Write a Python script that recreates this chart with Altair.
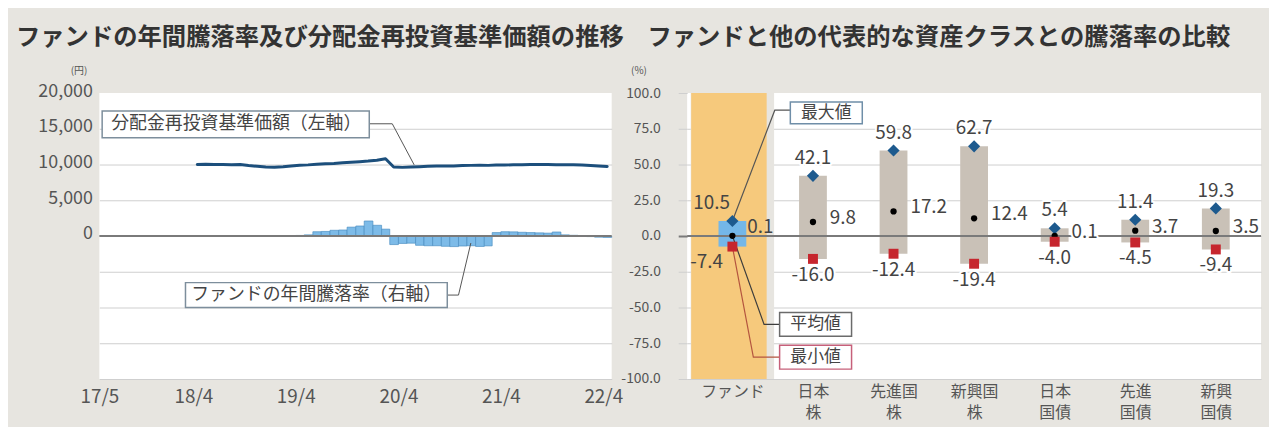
import json
import altair as alt
import pandas as pd

FONT = "Noto Sans CJK JP"
BG = "#e7e5e0"
NAVY = "#1c4f7c"
BAR_BLUE = "#7dbbe8"
BAR_EDGE = "#4d8fc2"
FUND_BLUE = "#74b7e8"
BOX_GRAY = "#c9c1b7"
ORANGE = "#f6c97c"
DIAMOND = "#1d5a8e"
RED = "#c6262e"
TXT = "#444444"

# ---------------- left chart data ----------------
nav_values = [
    10000, 10030, 10000, 10010, 9980, 9990, 9850, 9750, 9650,
    9620, 9700, 9800, 9900, 9950, 10050, 10100, 10150, 10250, 10320, 10400, 10480,
    10600, 10800, 9650, 9600, 9650, 9700, 9750, 9780, 9800, 9780, 9850, 9880,
    9900, 9880, 9920, 9940, 9960, 9980, 10000, 10010, 9990, 9970, 9960, 9970,
    9920, 9860, 9800, 9720,
]
ret_values = [
    0.4, 0.8, 3.0, 3.2, 4.0, 4.2, 6.2, 7.0, 10.5, 7.5, 4.8,
    -6.0, -5.2, -5.0, -6.5, -6.8, -6.8, -7.2, -7.4, -7.0, -6.8, -7.3, -6.9,
    2.4, 3.0, 2.9, 2.6, 2.4, 2.2, 2.0, 2.8,
    0.8, 0.5, 0.2, -0.4, -0.8, -1.0,
]
x_tick_dates = [(2017, 5), (2018, 4), (2019, 4), (2020, 4), (2021, 4), (2022, 4)]

# ---------------- right chart data ----------------
categories = ["ファンド", "日本|株", "先進国|株", "新興国|株", "日本|国債", "先進|国債", "新興|国債"]
max_values = [10.5, 42.1, 59.8, 62.7, 5.4, 11.4, 19.3]
avg_values = [0.1, 9.8, 17.2, 12.4, 0.1, 3.7, 3.5]
min_values = [-7.4, -16.0, -12.4, -19.4, -4.0, -4.5, -9.4]

# ---------------- tables ----------------
nav_periods = pd.period_range("2018-04", periods=len(nav_values), freq="M")
nav_df = pd.DataFrame({"date": [f"{p}-15T00:00:00" for p in nav_periods], "nav": nav_values})
ret_periods = pd.period_range("2019-04", periods=len(ret_values), freq="M")
ret_df = pd.DataFrame({
    "date": [f"{p}-01T00:00:00" for p in ret_periods],
    "end": [f"{p + 1}-01T00:00:00" for p in ret_periods],
    "ret": ret_values,
})
fmt = lambda v: f"{v:.1f}"
right_df = pd.DataFrame({
    "cat": categories,
    "pos": [i + 0.5 for i in range(len(categories))],
    "max": max_values, "avg": avg_values, "min": min_values,
    "max_label": [fmt(v) for v in max_values],
    "avg_label": [fmt(v) for v in avg_values],
    "min_label": [fmt(v) for v in min_values],
})

# ---------------- left chart ----------------
L_W, L_H = 516, 288
x_scale = alt.Scale(domain=[alt.DateTime(year=2017, month=5, date=1),
                            alt.DateTime(year=2022, month=5, date=1)])
x_axis = alt.Axis(values=[alt.DateTime(year=y, month=m, date=1) for y, m in x_tick_dates],
                  format="%y/%-m", labelFontSize=19, labelColor="#555", labelPadding=9,
                  ticks=False, domain=False, grid=False, title=None,
                  labelFlush=False, labelOverlap=False)
yen_scale = alt.Scale(domain=[-20000, 20000], nice=False)
pct_scale = alt.Scale(domain=[-100, 100], nice=False)
yen_axis = alt.Axis(values=list(range(-20000, 20001, 5000)),
                    labelExpr="datum.value >= 0 ? format(datum.value, ',') : ''",
                    labelFontSize=18, labelColor="#555", labelPadding=7, labelOffset=-2,
                    ticks=False, domain=False, grid=True,
                    gridColor={"condition": {"test": "datum.value >= 20000 || datum.value == 0",
                                             "value": "transparent"}, "value": "#cfcfcf"},
                    title="(円)", titleAngle=0, titleX=-21, titleY=-18, titleFontSize=10,
                    titleFontWeight="normal", titleColor="#555", titleAlign="center",
                    titleBaseline="bottom")


def X(field):
    return alt.X(field, scale=x_scale, axis=x_axis)


line = alt.Chart(nav_df).mark_line(color=NAVY, strokeWidth=3, strokeJoin="round", strokeCap="round").encode(
    x=X("date:T"),
    y=alt.Y("nav:Q", scale=yen_scale, axis=yen_axis),
)
bars = alt.Chart(ret_df).mark_bar(color=BAR_BLUE, stroke=BAR_EDGE, strokeWidth=0.7).encode(
    x=X("date:T"),
    x2="end:T",
    y=alt.Y("ret:Q", scale=pct_scale, axis=None),
    y2=alt.datum(0),
)
zero_l = alt.Chart(pd.DataFrame({"v": [0]})).mark_rule(color="#7a7a7a", strokeWidth=2).encode(
    y=alt.Y("v:Q", scale=pct_scale, axis=None))

box1 = pd.DataFrame({"x1": ["2017-05-11T00:00:00"], "x2": ["2019-12-19T00:00:00"],
                     "y1": [17500], "y2": [13750], "xc": ["2018-09-01T00:00:00"], "yc": [15625],
                     "label": ["分配金再投資基準価額（左軸）"]})
box2 = pd.DataFrame({"x1": ["2018-03-04T00:00:00"], "x2": ["2020-09-22T00:00:00"],
                     "y1": [-32.6], "y2": [-50.0], "xc": ["2019-06-13T00:00:00"], "yc": [-41.3],
                     "label": ["ファンドの年間騰落率（右軸）"]})
lead1 = pd.DataFrame({"d": ["2019-12-19T00:00:00", "2020-03-10T00:00:00", "2020-05-27T00:00:00"],
                      "v": [15700, 15700, 9950], "o": [0, 1, 2]})
lead2 = pd.DataFrame({"d": ["2020-09-22T00:00:00", "2020-11-01T00:00:00", "2020-12-15T00:00:00"],
                      "v": [-41.3, -41.3, -4.9], "o": [0, 1, 2]})


def ann_box(df, yscale):
    r = alt.Chart(df).mark_rect(fill="white", stroke="#7d8e9c", strokeWidth=1.5).encode(
        x=X("x1:T"), x2="x2:T",
        y=alt.Y("y1:Q", scale=yscale, axis=None), y2="y2:Q")
    t = alt.Chart(df).mark_text(fontSize=18, color=TXT).encode(
        x=X("xc:T"),
        y=alt.Y("yc:Q", scale=yscale, axis=None), text="label:N")
    return [r, t]


def leader(df, yscale):
    return alt.Chart(df).mark_line(color="#555", strokeWidth=1).encode(
        x=X("d:T"),
        y=alt.Y("v:Q", scale=yscale, axis=None), order="o:Q")


left = alt.layer(
    line, bars, zero_l,
    leader(lead1, yen_scale), *ann_box(box1, yen_scale),
    leader(lead2, pct_scale), *ann_box(box2, pct_scale),
).resolve_scale(y="independent").properties(
    width=L_W, height=L_H,
    title=alt.TitleParams("ファンドの年間騰落率及び分配金再投資基準価額の推移", anchor="start",
                          frame="group", dx=-84, fontSize=24.5, fontWeight="bold",
                          color="#333", offset=15),
)

# ---------------- right chart ----------------
R_W, R_H = 578, 288
n = len(categories)
xq = alt.Scale(domain=[0, n], nice=False, zero=False)
yq = alt.Scale(domain=[-100, 100], nice=False)
cats_js = json.dumps(categories, ensure_ascii=False)
x_axis_r = alt.Axis(values=[i + 0.5 for i in range(n)],
                    labelExpr=f"split({cats_js}[floor(datum.value)], '|')",
                    ticks=False, domain=False, grid=False, title=None,
                    labelFontSize=16, labelColor="#555", labelPadding=5, labelLineHeight=21,
                    labelOverlap=False, labelFlush=False)
y_axis_r = alt.Axis(values=list(range(-100, 101, 25)),
                    labelExpr="(datum.value < 0 ? '-' : '') + format(abs(datum.value), '.1f')",
                    labelFontSize=14, labelColor="#555", labelPadding=18, tickSize=9,
                    tickColor={"condition": {"test": "datum.value == 0", "value": "#7a7a7a"},
                               "value": "#cfcfcf"},
                    tickWidth={"condition": {"test": "datum.value == 0", "value": 2}, "value": 1},
                    domain=False, grid=True,
                    gridColor={"condition": {"test": "datum.value >= 100", "value": "transparent"},
                               "value": "#cfcfcf"},
                    title="(%)", titleAngle=0, titleX=-49, titleY=-18, titleFontSize=10,
                    titleFontWeight="normal", titleColor="#555", titleAlign="center",
                    titleBaseline="bottom")


def XR(field="pos:Q"):
    return alt.X(field, scale=xq, axis=x_axis_r)


def YR(field):
    return alt.Y(field, scale=yq, axis=y_axis_r)


base = alt.Chart(right_df)
is_fund = alt.datum.cat == categories[0]
not_fund = alt.datum.cat != categories[0]

band_bg = base.transform_filter(is_fund).transform_calculate(top="100", bot="-100").mark_bar(
    width=84, color=BG).encode(x=XR(), y=YR("top:Q"), y2="bot:Q")
band_or = base.transform_filter(is_fund).transform_calculate(top="100", bot="-100").mark_bar(
    width=76, xOffset=-3.5, color=ORANGE).encode(x=XR(), y=YR("top:Q"), y2="bot:Q")
boxes = base.mark_bar(width=28).encode(
    x=XR(), y=YR("min:Q"), y2="max:Q",
    color=alt.condition(is_fund, alt.value(FUND_BLUE), alt.value(BOX_GRAY)),
)
zero_r = alt.Chart(pd.DataFrame({"v": [0]})).mark_rule(color="#7a7a7a", strokeWidth=2).encode(
    y=YR("v:Q"))

leaders_r = pd.DataFrame({
    "grp": ["max"] * 3 + ["avg"] * 3 + ["min"] * 3,
    "o": [0, 1, 2] * 3,
    "x": [0.5, 1.026, 1.219, 0.5, 0.893, 1.086, 0.5, 0.76, 1.086],
    "y": [10.5, 88.0, 88.0, 0.1, -61.8, -61.8, -7.4, -84.7, -84.7],
    "lc": ["#555555"] * 3 + ["#3d3d3d"] * 3 + ["#b4553f"] * 3,
})
lead_r = alt.Chart(leaders_r).mark_line(strokeWidth=1.2).encode(
    x=XR("x:Q"), y=YR("y:Q"),
    detail="grp:N", order="o:Q", color=alt.Color("lc:N", scale=None))

diam = base.mark_point(shape="diamond", filled=True, size=150, color=DIAMOND, opacity=1).encode(
    x=XR(), y=YR("max:Q"))
dot = base.mark_circle(size=40, color="black", opacity=1).encode(
    x=XR(), y=YR("avg:Q"))
sq = base.mark_square(size=100, color=RED, opacity=1).encode(
    x=XR(), y=YR("min:Q"))


def labels(field, txt, flt, halo, **kw):
    ch = base.transform_filter(flt)
    layers = []
    if halo:
        layers.append(ch.mark_text(fontSize=19, stroke="white", strokeWidth=4, strokeJoin="round",
                                   color="white", **kw).encode(
            x=XR(), y=YR(f"{field}:Q"), text=f"{txt}:N"))
    layers.append(ch.mark_text(fontSize=19, color=TXT, **kw).encode(
        x=XR(), y=YR(f"{field}:Q"), text=f"{txt}:N"))
    return layers


lab_layers = (
    labels("max", "max_label", not_fund, True, dy=-18)
    + labels("min", "min_label", not_fund, True, dy=16)
    + labels("avg", "avg_label", not_fund, True, dx=17, dy=-4, align="left")
    + labels("max", "max_label", is_fund, False, dx=-21, dy=-18)
    + labels("min", "min_label", is_fund, False, dx=-26, dy=16)
    + labels("avg", "avg_label", is_fund, False, dx=15, dy=-9, align="left")
)

ann_r = pd.DataFrame({
    "x1": [1.219, 1.086, 1.086], "x2": [2.112, 1.979, 1.979],
    "y1": [93.75, -53.5, -76.4], "y2": [78.5, -70.1, -93.1],
    "xc": [1.665, 1.533, 1.533], "yc": [86.1, -61.8, -84.7],
    "label": ["最大値", "平均値", "最小値"],
    "bc": ["#6f8ea8", "#6b6b6b", "#c6607a"],
})
ann_rect_r = alt.Chart(ann_r).mark_rect(fill="white", strokeWidth=1.5).encode(
    x=XR("x1:Q"), x2="x2:Q",
    y=YR("y1:Q"), y2="y2:Q",
    stroke=alt.Stroke("bc:N", scale=None))
ann_text_r = alt.Chart(ann_r).mark_text(fontSize=17, color=TXT).encode(
    x=XR("xc:Q"), y=YR("yc:Q"), text="label:N")

right = alt.layer(
    band_bg, band_or, boxes, zero_r, lead_r, diam, dot, sq, *lab_layers, ann_rect_r, ann_text_r,
).properties(
    width=R_W, height=R_H,
    title=alt.TitleParams("ファンドと他の代表的な資産クラスとの騰落率の比較", anchor="start",
                          frame="group", dx=-40, fontSize=24.5, fontWeight="bold",
                          color="#333", offset=15),
)

chart = alt.hconcat(left, right, spacing=76, bounds="flush").configure(
    background=BG, font=FONT,
    padding={"left": 8, "top": 15, "right": 7, "bottom": 46},
).configure_view(fill="white", stroke=None).configure_axis(
    labelFont=FONT, titleFont=FONT).configure_text(font=FONT).configure_title(font=FONT)

chart.save("out.html", embed_options={"renderer": "svg", "actions": False})
